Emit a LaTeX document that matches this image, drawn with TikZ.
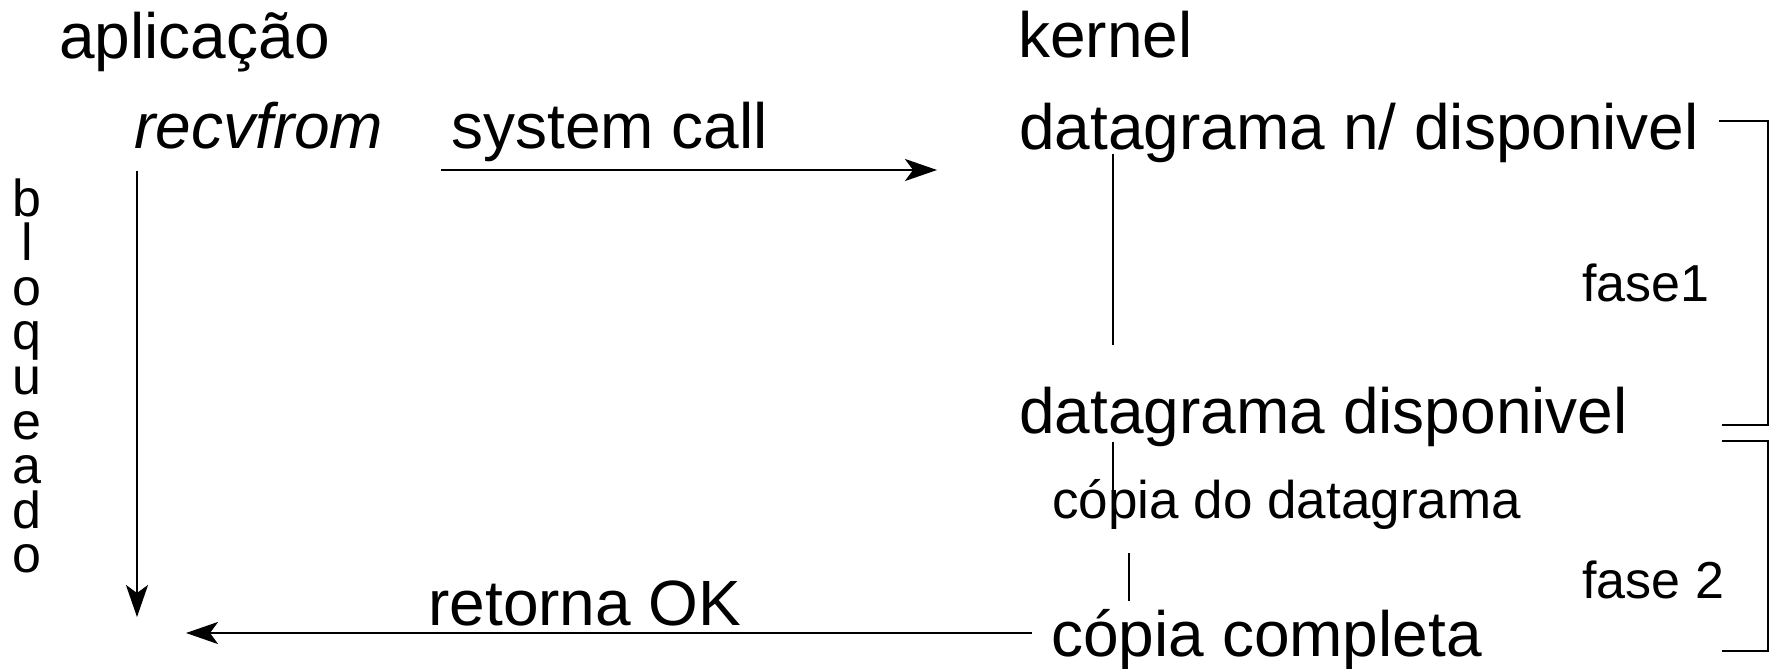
\documentclass[tikz,border=0pt]{standalone}
\usepackage{fontspec}
\setmainfont{Liberation Sans}
\usetikzlibrary{arrows.meta}
\begin{document}
\begin{tikzpicture}[x=0.5pt,y=-0.5pt,
  big/.style={inner sep=0pt, anchor=base west, font=\fontsize{32}{38}\selectfont},
  small/.style={inner sep=0pt, anchor=base west, font=\fontsize{26}{31}\selectfont},
  flow/.style={line width=1.25pt, -{Stealth[length=16pt, width=11pt, inset=4pt]}},
  tick/.style={line width=1pt},
  brace/.style={line width=1.2pt}]
\useasboundingbox (0,0) rectangle (1779,669);

% column headings
\node[big] (app) at (59,58) {aplicação};
\node[big] (kern) at (1018,57) {kernel};

% application side
\node[big, font=\fontsize{32}{38}\selectfont\itshape] (recv) at (134,148) {recvfrom};
\node[big] (sys) at (451,148) {system call};
\node[inner sep=0pt, anchor=north, align=center,
      font=\fontsize{26}{22.3}\selectfont] (bloq) at (27,178)
  {b\\l\\o\\q\\u\\e\\a\\d\\o};
\node[big] (ret) at (428,625) {retorna OK};

% kernel side
\node[big] (dnd) at (1019,149) {datagrama n/ disponivel};
\node[big] (dd) at (1019,433) {datagrama disponivel};
\node[small, font=\fontsize{26.5}{31}\selectfont] (cdd) at (1052,518) {cópia do datagrama};
\node[big] (cc) at (1051,656) {cópia completa};
\node[small] (f1) at (1582,301) {fase1};
\node[small] (f2) at (1582,598) {fase 2};

% connector end points
\coordinate (blkTop) at (137,171);
\coordinate (blkEnd) at (137,617);
\coordinate (callStart) at (441,170);
\coordinate (callEnd) at (937,170);
\coordinate (retStart) at (1032,633);
\coordinate (retEnd) at (186,633);
\coordinate (k1a) at (1113,154);
\coordinate (k1b) at (1113,345);
\coordinate (k2a) at (1113,442);
\coordinate (k2b) at (1113,494);
\coordinate (k3a) at (1129,553);
\coordinate (k3b) at (1129,601);

% arrows
\draw[flow] (blkTop) -- (blkEnd);
\draw[flow] (callStart) -- (callEnd);
\draw[flow] (retStart) -- (retEnd);

% kernel timeline
\draw[tick] (k1a) -- (k1b);
\draw[tick] (k2a) -- (k2b);
\draw[tick] (k3a) -- (k3b);

% phase brackets
\draw[brace] (1719,121) -- (1768,121) -- (1768,425) -- (1722,425);
\draw[brace] (1722,441) -- (1768,441) -- (1768,651) -- (1722,651);
\end{tikzpicture}
\end{document}
